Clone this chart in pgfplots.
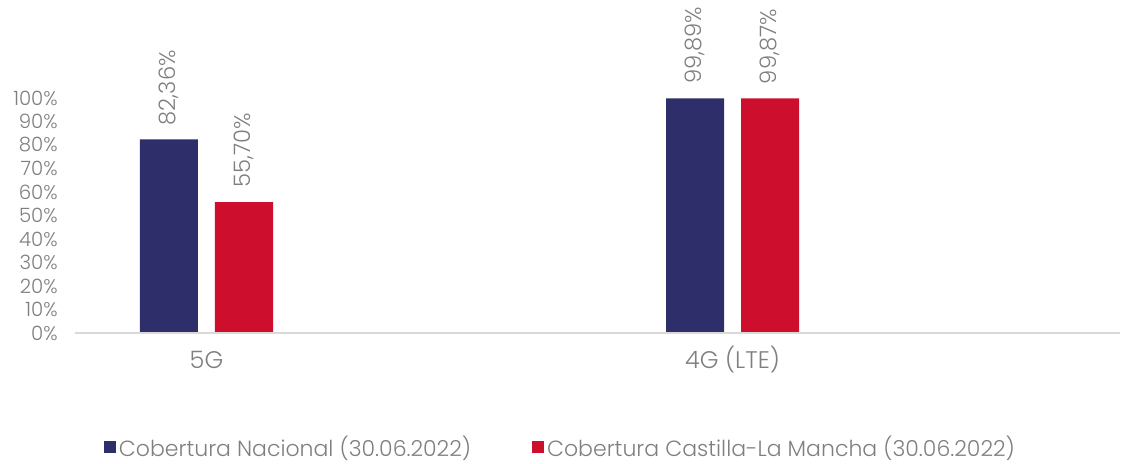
\documentclass[border=0pt]{standalone}
\usepackage{fontspec}
\setmainfont{Poppins}[UprightFont=* Light]
\usepackage{pgfplots}
\pgfplotsset{compat=1.18}
\definecolor{navy}{HTML}{2E2E6A}
\definecolor{crimson}{HTML}{CE0E2D}
\definecolor{txt}{HTML}{7F7F7F}
\definecolor{axl}{HTML}{D9D9D9}
\begin{document}
\begin{tikzpicture}
\begin{axis}[
  scale only axis, width=783.75pt, height=176.25pt,
  xmin=75, xmax=1120, ymin=0, ymax=100,
  clip=false,
  axis line style={draw=none},
  major tick length=0pt,
  tick style={draw=none},
  ytick={0,10,...,100},
  yticklabels={0\%,10\%,20\%,30\%,40\%,50\%,60\%,70\%,80\%,90\%,100\%},
  yticklabel style={font=\fontsize{14.8}{17}\selectfont, color=txt, anchor=east, inner sep=0pt, xshift=-12.75pt},
  xtick={206.5,732.5},
  xticklabels={5G,4G (LTE)},
  xticklabel style={font=\fontsize{18}{21}\selectfont, color=txt, anchor=base, inner sep=0pt, yshift=-27pt},
  point meta=explicit symbolic,
  nodes near coords,
  nodes near coords style={font=\fontsize{17}{20}\selectfont, color=txt, rotate=90, anchor=west, inner ysep=0pt, inner xsep=10.5pt},
  legend columns=2,
  legend style={at={(0.02775,-0.4851)}, anchor=west, draw=none, fill=none, inner sep=0pt,
    font=\fontsize{16.5}{19}\selectfont, text=txt,
    /tikz/every even column/.append style={column sep=44pt}},
  legend image code/.code={\fill (0pt,-4.5pt) rectangle (9pt,4.5pt);},
]
\addplot[ybar, bar width=43.5pt, bar shift=0pt, fill=navy, draw=none]
  coordinates {(169,82.36) [82,36\%] (695,99.89) [99,89\%]};
\addlegendentry{Cobertura Nacional (30.06.2022)}
\addplot[ybar, bar width=43.5pt, bar shift=0pt, fill=crimson, draw=none]
  coordinates {(244,55.70) [55,70\%] (770,99.87) [99,87\%]};
\addlegendentry{Cobertura Castilla-La Mancha (30.06.2022)}
\draw[axl, line width=1pt] (axis cs:75,0) -- (axis cs:1120,0);
\end{axis}
\pgfresetboundingbox
\path (-56.25pt,-98.25pt) rectangle (785.25pt,249.75pt);
\end{tikzpicture}
\end{document}
